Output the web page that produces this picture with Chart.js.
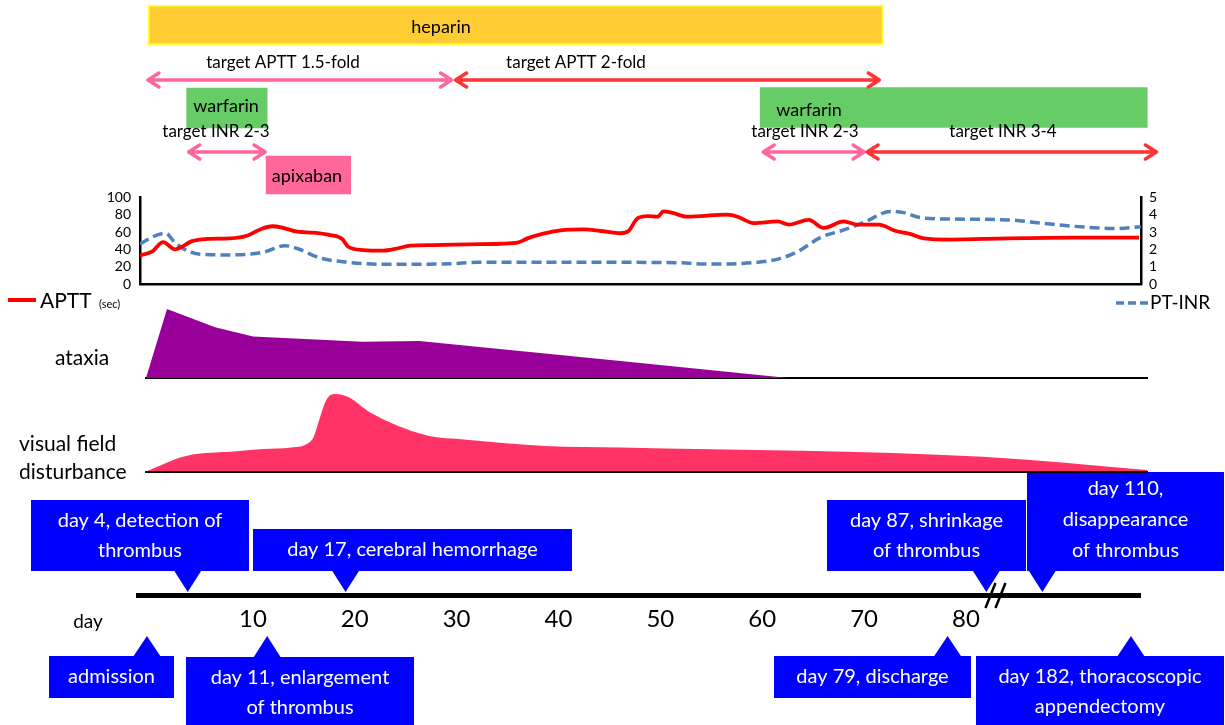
<!DOCTYPE html>
<html>
<head>
<meta charset="utf-8">
<script src="https://cdn.jsdelivr.net/npm/chart.js@4.4.1/dist/chart.umd.min.js"></script>
<style>
  html, body { margin: 0; padding: 0; background: #fff; }
  #page { position: relative; width: 1225px; height: 725px; overflow: hidden; font-family: Lato, sans-serif; }
  #page canvas { position: absolute; left: 0; }
  .label { position: absolute; font-size: 21px; line-height: 21px; color: #000; white-space: nowrap; }
</style>
</head>
<body>
<div id="page">
  <canvas id="timeline" width="1225" height="725" style="top:0"></canvas>
  <canvas id="labChart" width="1225" height="150" style="top:180px"></canvas>
  <canvas id="ataxiaChart" width="1225" height="85" style="top:300px"></canvas>
  <canvas id="visualChart" width="1225" height="95" style="top:385px"></canvas>
  <div class="label" style="left:55px;top:346px">ataxia</div>
  <div class="label" style="left:19px;top:432px">visual field</div>
  <div class="label" style="left:19px;top:460px">disturbance</div>
</div>
<script>
// timeline (broken axis, position units ~ days before the break)
const dayTicks = [10, 20, 30, 40, 50, 60, 70, 80];
const heparinDays = [-0.3, 71.9];
const warfarinDays = [[3.5, 11.4], [59.8, 97.8]];
const apixabanDays = [11.3, 19.6];
const apttTargetLabels = ['target APTT 1.5-fold', 'target APTT 2-fold'];
const apttTargetDays = [[-0.4, 29.6], [29.8, 71.6]];
const inrTargetLabels = ['target INR 2-3', 'target INR 2-3', 'target INR 3-4'];
const inrTargetDays = [[3.6, 11.3], [60.0, 70.1], [70.2, 98.8]];
const eventLabels = [
  ['day 4, detection of', 'thrombus'],
  ['day 17, cerebral hemorrhage'],
  ['day 87, shrinkage', 'of thrombus'],
  ['day 110,', 'disappearance', 'of thrombus'],
  ['admission'],
  ['day 11, enlargement', 'of thrombus'],
  ['day 79, discharge'],
  ['day 182, thoracoscopic', 'appendectomy']
];
const eventPos = [3.6, 19.1, 82.0, 87.5, -0.4, 11.4, 78.2, 96.2];

// lab values (APTT sec, PT-INR), x = time position 0-100
const apttT = [0, 1.2, 2.3, 3.5, 4.0, 5.2, 6.7, 9.0, 10.7, 12.0, 13.2, 14.3, 15.7, 17.3, 19.0, 20.2, 20.8, 22.3, 24.3, 25.7,
  27.0, 29.3, 32.7, 36.0, 37.8, 38.7, 40.3, 42.0, 44.3, 46.0, 48.0, 48.8, 49.7, 50.7, 51.7, 52.3, 53.2, 54.7, 58.7, 59.7,
  61.3, 63.7, 64.8, 66.8, 68.3, 70.3, 71.7, 73.8, 75.5, 77.0, 78.3, 81.0, 86.7, 93.3, 99.8];
const apttV = [33, 37.4, 48.4, 40, 41.8, 49.5, 52, 52.7, 55.7, 63, 66.7, 64.8, 60.4, 59.3, 56.4, 52, 43, 39.2, 38.5, 41,
  44.3, 45, 45.8, 46.5, 48, 52.7, 58.2, 61.9, 63, 61.2, 58.6, 61.2, 75.8, 78.4, 77.7, 83.9, 82.1, 77.7, 80.2, 77.7,
  70.3, 72.2, 68.5, 74, 64.8, 72.2, 68.5, 68.5, 61.2, 57.5, 52.7, 51.3, 52.7, 53.5, 53.5];
const inrT = [0, 1.3, 2.6, 3.3, 4.3, 6.0, 9.0, 12.3, 14.5, 15.7, 18.0, 20.7, 24.0, 27.0, 31.0, 33.7, 39.3, 54.0, 56.3,
  61.3, 64.0, 65.7, 68.0, 70.3, 72.3, 75.0, 76.3, 78.0, 81.0, 86.7, 90.0, 93.3, 97.7, 100];
const inrV = [2.3, 2.73, 2.93, 2.51, 2.05, 1.72, 1.68, 1.83, 2.21, 2.05, 1.5, 1.26, 1.14, 1.14, 1.17, 1.25, 1.26, 1.23, 1.15,
  1.23, 1.48, 1.87, 2.69, 3.12, 3.55, 4.19, 4.12, 3.83, 3.75, 3.70, 3.52, 3.33, 3.2, 3.31];

// symptom severity (relative, 0-10)
const ataxiaT = [0, 2.1, 6.9, 10.7, 21.6, 27.3, 39.1, 47.4, 64.2];
const ataxiaV = [0, 10, 7.35, 6.0, 5.26, 5.36, 3.67, 2.46, 0];
const visualT = [0, 4.0, 9.1, 11.7, 14.5, 16.6, 17.0, 18.0, 18.9, 20.2, 22.4, 27.9, 32.0, 39.9, 47.4, 83.6, 100];
const visualV = [0, 2.0, 2.6, 2.9, 3.1, 4.1, 5.4, 9.2, 10, 9.6, 7.6, 4.7, 4.1, 3.3, 3.1, 1.9, 0.2];

Chart.defaults.font.family = 'Lato, sans-serif';
Chart.defaults.color = '#000';

const PINK = '#FF6699';
const RED = '#FF3333';
const BLUE = '#0000FF';

// layout of the captions and callouts (pixels)
const apttTargetText = [[283, 63], [576, 63]];
const inrTargetText = [[216, 132], [805, 132], [1003, 132]];
const apttArrowY = 80;
const inrArrowY = 152;
const apttColors = [PINK, RED];
const inrColors = [PINK, PINK, RED];
const calloutBoxes = [
  [31, 500, 249, 571], [253, 529, 572, 571], [827, 500, 1026, 571], [1027, 472, 1224, 571],
  [49, 656, 174, 698], [186, 657, 414, 745], [774, 656, 971, 698], [976, 656, 1224, 745]
];
const breakPos = 82.9;

function drawArrow(ctx, xa, xb, y, color) {
  ctx.strokeStyle = color;
  ctx.lineWidth = 3.5;
  ctx.lineCap = 'round';
  ctx.lineJoin = 'round';
  ctx.beginPath();
  ctx.moveTo(xa + 2, y); ctx.lineTo(xb - 2, y);
  ctx.moveTo(xa + 12, y - 7); ctx.lineTo(xa + 1, y); ctx.lineTo(xa + 12, y + 7);
  ctx.moveTo(xb - 12, y - 7); ctx.lineTo(xb - 1, y); ctx.lineTo(xb - 12, y + 7);
  ctx.stroke();
}

function drawCallout(ctx, box, tipX, lines) {
  const [l, t, r, b] = box;
  const above = b < 593;
  const baseY = above ? b - 1 : t + 1;
  const tipY = above ? 592 : 636;
  ctx.fillStyle = BLUE;
  ctx.fillRect(l, t, r - l, b - t);
  ctx.beginPath();
  ctx.moveTo(tipX - 14, baseY);
  ctx.lineTo(tipX, tipY);
  ctx.lineTo(tipX + 14, baseY);
  ctx.closePath();
  ctx.fill();
  ctx.fillStyle = '#fff';
  ctx.font = '20px Lato, sans-serif';
  ctx.textAlign = 'center';
  ctx.textBaseline = 'middle';
  const first = lines.length > 2 ? t + 17 : t + 21;
  const step = lines.length > 2 ? 31 : 29.5;
  lines.forEach((s, i) => ctx.fillText(s, (l + r) / 2, first + i * step));
}

const timelineDecor = {
  id: 'timelineDecor',
  afterDatasetsDraw(chart) {
    const ctx = chart.ctx;
    const x = chart.scales.x;
    ctx.save();
    ctx.fillStyle = '#000';
    ctx.textAlign = 'center';
    ctx.textBaseline = 'middle';
    ctx.font = '18px Lato, sans-serif';
    ctx.fillText('heparin', 441, 27);
    ctx.fillText('warfarin', 226, 106);
    ctx.fillText('warfarin', 809, 110);
    ctx.fillText('apixaban', 307, 176);
    ctx.font = '17px Lato, sans-serif';
    apttTargetLabels.forEach((s, i) => ctx.fillText(s, apttTargetText[i][0], apttTargetText[i][1]));
    inrTargetLabels.forEach((s, i) => ctx.fillText(s, inrTargetText[i][0], inrTargetText[i][1]));

    apttTargetDays.forEach((d, i) =>
      drawArrow(ctx, x.getPixelForValue(d[0]), x.getPixelForValue(d[1]), apttArrowY, apttColors[i]));
    inrTargetDays.forEach((d, i) =>
      drawArrow(ctx, x.getPixelForValue(d[0]), x.getPixelForValue(d[1]), inrArrowY, inrColors[i]));

    eventLabels.forEach((lines, i) =>
      drawCallout(ctx, calloutBoxes[i], x.getPixelForValue(eventPos[i]), lines));

    ctx.fillStyle = '#000';
    ctx.textAlign = 'center';
    ctx.font = '19px Lato, sans-serif';
    ctx.fillText('day', 88, 622);

    // axis break
    const bx = x.getPixelForValue(breakPos);
    ctx.strokeStyle = '#000';
    ctx.lineWidth = 2.5;
    ctx.lineCap = 'butt';
    ctx.beginPath();
    ctx.moveTo(bx - 10, 608); ctx.lineTo(bx, 583);
    ctx.moveTo(bx, 608); ctx.lineTo(bx + 10, 583);
    ctx.stroke();
    ctx.restore();
  }
};

new Chart(document.getElementById('timeline'), {
  type: 'bar',
  data: {
    datasets: [
      {
        label: 'heparin',
        data: [{ x: heparinDays, y: 25 }],
        backgroundColor: '#FFCC33',
        borderColor: '#FFFF33',
        borderWidth: 2,
        borderSkipped: false,
        barThickness: 40,
        grouped: false,
        clip: false
      },
      {
        label: 'warfarin',
        data: warfarinDays.map((d, i) => ({ x: d, y: i === 0 ? 108 : 107.5 })),
        backgroundColor: '#66CC66',
        borderWidth: 0,
        barThickness: 40,
        grouped: false,
        clip: false
      },
      {
        label: 'apixaban',
        data: [{ x: apixabanDays, y: 175 }],
        backgroundColor: PINK,
        borderWidth: 0,
        barThickness: 38,
        grouped: false,
        clip: false
      }
    ]
  },
  options: {
    indexAxis: 'y',
    responsive: false,
    animation: false,
    layout: { padding: { left: 138, right: 85, top: 0, bottom: 0 } },
    plugins: { legend: { display: false }, tooltip: { enabled: false } },
    scales: {
      x: {
        type: 'linear',
        min: -1.28,
        max: 97.09,
        afterBuildTicks: s => { s.ticks = dayTicks.map(v => ({ value: v })); },
        afterFit: s => { s.height = 130; },
        grid: { display: false, drawTicks: false },
        border: { display: true, color: '#000', width: 5 },
        ticks: { color: '#000', font: { size: 24 }, padding: 10, maxRotation: 0, autoSkip: false }
      },
      y: { type: 'linear', display: false, offset: false, min: 0, max: 595, reverse: true }
    }
  },
  plugins: [timelineDecor]
});

const labLegend = {
  id: 'labLegend',
  afterDraw(chart) {
    const ctx = chart.ctx;
    ctx.save();
    ctx.strokeStyle = '#FF0000';
    ctx.lineWidth = 4;
    ctx.beginPath(); ctx.moveTo(8, 120); ctx.lineTo(36, 120); ctx.stroke();
    ctx.fillStyle = '#000';
    ctx.textBaseline = 'middle';
    ctx.textAlign = 'left';
    ctx.font = '21px Lato, sans-serif';
    ctx.fillText('APTT', 40, 121);
    ctx.font = '11px Lato, sans-serif';
    ctx.fillText('(sec)', 99, 124);
    ctx.strokeStyle = '#4F81BD';
    ctx.lineWidth = 3.5;
    ctx.setLineDash([8, 4]);
    ctx.beginPath(); ctx.moveTo(1116, 123); ctx.lineTo(1148, 123); ctx.stroke();
    ctx.setLineDash([]);
    ctx.font = '19px Lato, sans-serif';
    ctx.fillText('PT-INR', 1150, 123);
    ctx.restore();
  }
};

new Chart(document.getElementById('labChart'), {
  type: 'line',
  data: {
    datasets: [
      {
        label: 'APTT',
        data: apttT.map((t, i) => ({ x: t, y: apttV[i] })),
        yAxisID: 'y',
        borderColor: '#FF0000',
        borderWidth: 3.8,
        pointRadius: 0,
        cubicInterpolationMode: 'monotone'
      },
      {
        label: 'PT-INR',
        data: inrT.map((t, i) => ({ x: t, y: inrV[i] })),
        yAxisID: 'y1',
        borderColor: '#4F81BD',
        borderWidth: 3.5,
        borderDash: [10, 5],
        pointRadius: 0,
        cubicInterpolationMode: 'monotone'
      }
    ]
  },
  options: {
    responsive: false,
    animation: false,
    layout: { autoPadding: false, padding: { left: 100, right: 44, top: 11, bottom: 46 } },
    plugins: { legend: { display: false }, tooltip: { enabled: false } },
    scales: {
      x: {
        type: 'linear', min: 0, max: 100,
        afterFit: s => { s.height = 0; },
        ticks: { display: false },
        grid: { display: false, drawTicks: false },
        border: { color: '#000', width: 2.5 }
      },
      y: {
        position: 'left', min: 0, max: 100,
        afterFit: s => { s.width = 40; },
        ticks: { stepSize: 20, autoSkip: false, color: '#000', font: { size: 14 }, padding: 9 },
        grid: { display: false, drawTicks: false },
        border: { color: '#000', width: 2.5 }
      },
      y1: {
        position: 'right', min: 0, max: 5,
        afterFit: s => { s.width = 40; },
        ticks: { stepSize: 1, autoSkip: false, color: '#000', font: { size: 14 }, padding: 8 },
        grid: { display: false, drawTicks: false },
        border: { color: '#000', width: 2.5 }
      }
    }
  },
  plugins: [labLegend]
});

function symptomChart(id, t, v, color, tension, padBottom) {
  return new Chart(document.getElementById(id), {
    type: 'line',
    data: {
      datasets: [{
        data: t.map((d, i) => ({ x: d, y: v[i] })),
        backgroundColor: color,
        borderWidth: 0,
        pointRadius: 0,
        fill: 'origin',
        tension: tension,
        cubicInterpolationMode: tension ? 'monotone' : 'default'
      }]
    },
    options: {
      responsive: false,
      animation: false,
      layout: { padding: { left: 146, right: 78, top: 9, bottom: padBottom } },
      plugins: { legend: { display: false }, tooltip: { enabled: false } },
      scales: {
        x: {
          type: 'linear', min: 0, max: 100,
          afterFit: s => { s.height = 0; },
          ticks: { display: false },
          grid: { display: false, drawTicks: false },
          border: { color: '#000', width: 2 }
        },
        y: { display: false, min: 0, max: 10 }
      }
    }
  });
}

symptomChart('ataxiaChart', ataxiaT, ataxiaV, '#990099', 0, 7);
symptomChart('visualChart', visualT, visualV, '#FF3366', 0.4, 8.5);
</script>
</body>
</html>
